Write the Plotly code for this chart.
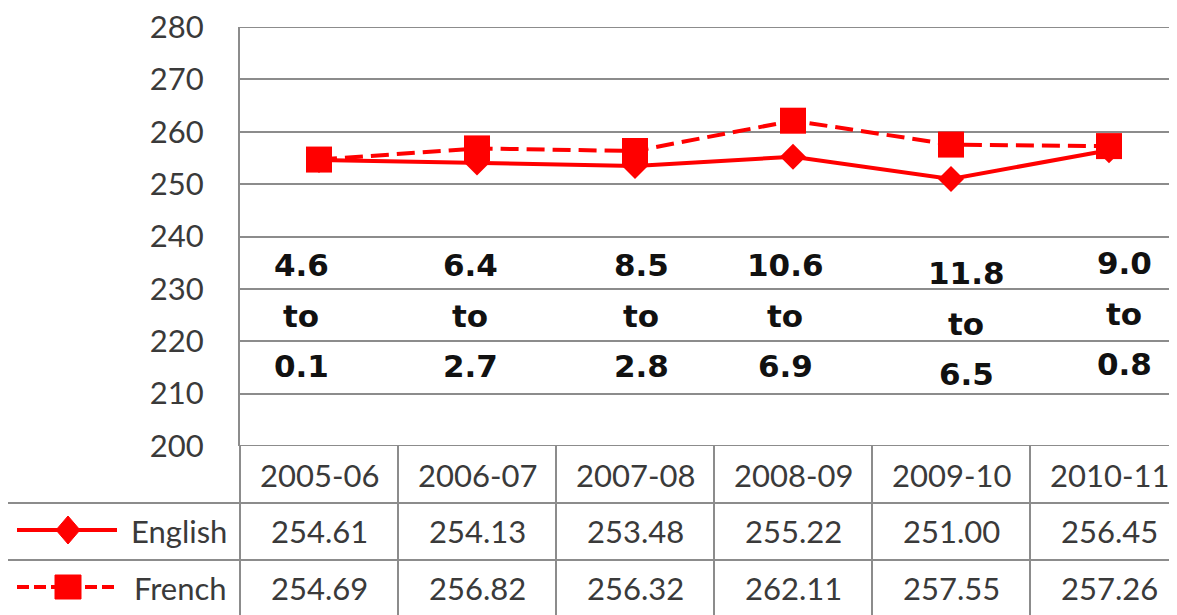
import plotly.graph_objects as go

years = ["2005-06", "2006-07", "2007-08", "2008-09", "2009-10", "2010-11"]
english = [254.61, 254.13, 253.48, 255.22, 251.00, 256.45]
french = [254.69, 256.82, 256.32, 262.11, 257.55, 257.26]
gap_high = ["4.6", "6.4", "8.5", "10.6", "11.8", "9.0"]
gap_low = ["0.1", "2.7", "2.8", "6.9", "6.5", "0.8"]
y_ticks = [200, 210, 220, 230, 240, 250, 260, 270, 280]

W, H = 1177, 615
OFF = 8                          # page body margin
L, T, B = 240, 27, 446          # plot area pixel bounds (page coordinates)
PW, PH = W - L, B - T
RED = "#FF0000"
GRID = "#8C8C8C"
TXT = "#3A3A3A"
TFONT = "Lato"

slot = 158.0
xr = [-0.5, -0.5 + PW / slot]


def px(xpix):
    return (xpix - L) / PW


def py(ypix):
    return (B - ypix) / PH


def cat_px(i):
    return L + (i + 0.5) * slot


fig = go.Figure()
fig.add_trace(go.Scatter(
    x=list(range(len(years))), y=english, mode="lines+markers", name="English",
    line=dict(color=RED, width=4),
    marker=dict(symbol="diamond", size=20, color=RED),
    cliponaxis=False, showlegend=False))
fig.add_trace(go.Scatter(
    x=list(range(len(years))), y=french, mode="lines+markers", name="French",
    line=dict(color=RED, width=4, dash="18px,8px"),
    marker=dict(symbol="square", size=26, color=RED),
    cliponaxis=False, showlegend=False))

shapes = []
# range-edge gridlines (top and bottom)
for yv in (y_ticks[0], y_ticks[-1]):
    shapes.append(dict(type="line", xref="paper", yref="y", x0=0, x1=1, y0=yv, y1=yv,
                       layer="below", line=dict(color=GRID, width=2)))
edges = [L + k * slot for k in range(len(years) + 1)]
for xe in edges:
    shapes.append(dict(type="line", xref="paper", yref="paper",
                       x0=px(xe), x1=px(xe), y0=py(B), y1=py(H + 5),
                       line=dict(color=GRID, width=2)))
for ye in [503, 560]:
    shapes.append(dict(type="line", xref="paper", yref="paper",
                       x0=px(7), x1=px(edges[-1]), y0=py(ye), y1=py(ye),
                       line=dict(color=GRID, width=2)))
shapes.append(dict(type="line", xref="paper", yref="paper",
                   x0=px(7), x1=px(7), y0=py(503), y1=py(H + 5),
                   line=dict(color=GRID, width=2)))

# legend glyphs
ey, fy = 530, 587
shapes.append(dict(type="line", xref="paper", yref="paper",
                   x0=px(17), x1=px(117), y0=py(ey), y1=py(ey),
                   line=dict(color=RED, width=4)))
shapes.append(dict(type="path", xref="paper", yref="paper",
                   path="M {} {} L {} {} L {} {} L {} {} Z".format(
                       px(68), py(ey - 14), px(80), py(ey), px(68), py(ey + 14), px(56), py(ey)),
                   fillcolor=RED, line=dict(color=RED, width=1)))
shapes.append(dict(type="line", xref="paper", yref="paper",
                   x0=px(17), x1=px(117), y0=py(fy), y1=py(fy),
                   line=dict(color=RED, width=4, dash="12px,5px")))
shapes.append(dict(type="rect", xref="paper", yref="paper",
                   x0=px(55), x1=px(81), y0=py(fy - 12), y1=py(fy + 12),
                   fillcolor=RED, line=dict(color=RED, width=1)))

ann = []


def add_text(xp, yp, text, font, xanchor="center"):
    ann.append(dict(x=px(xp), y=py(yp), xref="paper", yref="paper", text=text,
                    xanchor=xanchor, yanchor="middle", showarrow=False, font=font))


tf = dict(family=TFONT, size=31, color=TXT)
for i, yr in enumerate(years):
    add_text(cat_px(i), 475, yr, tf)
    add_text(cat_px(i), 531, "%.2f" % english[i], tf)
    add_text(cat_px(i), 588, "%.2f" % french[i], tf)
add_text(229, 531, "English", tf, xanchor="right")
add_text(229, 588, "French", tf, xanchor="right")

# gap labels
xoff = [-18, -7, 6, -8, 15, 15]
yoff = [0, 0, 0, 0, 8, -2]
gf = dict(family="DejaVu Sans", size=31, color="#111111")
for i in range(len(years)):
    for txt, yp in [(gap_high[i], 265), ("to", 316), (gap_low[i], 366)]:
        add_text(cat_px(i) + xoff[i], yp + yoff[i], "<b>%s</b>" % txt, gf)

fig.update_layout(
    width=W - OFF, height=H - OFF,
    margin=dict(l=L - OFF, r=0, t=T - OFF, b=H - B, pad=0),
    paper_bgcolor="white", plot_bgcolor="white",
    shapes=shapes, annotations=ann,
    xaxis=dict(range=xr, showgrid=False, showticklabels=False, zeroline=False,
               showline=False, fixedrange=True),
    yaxis=dict(range=[200, 280], tickvals=y_ticks, showgrid=True, gridcolor=GRID, gridwidth=2,
               zeroline=False, showline=True, linecolor=GRID, linewidth=2,
               ticks="", ticklabelstandoff=28, ticklabeloverflow="allow",
               tickfont=dict(family=TFONT, size=31, color=TXT)),
)

fig.write_html("out.html")
